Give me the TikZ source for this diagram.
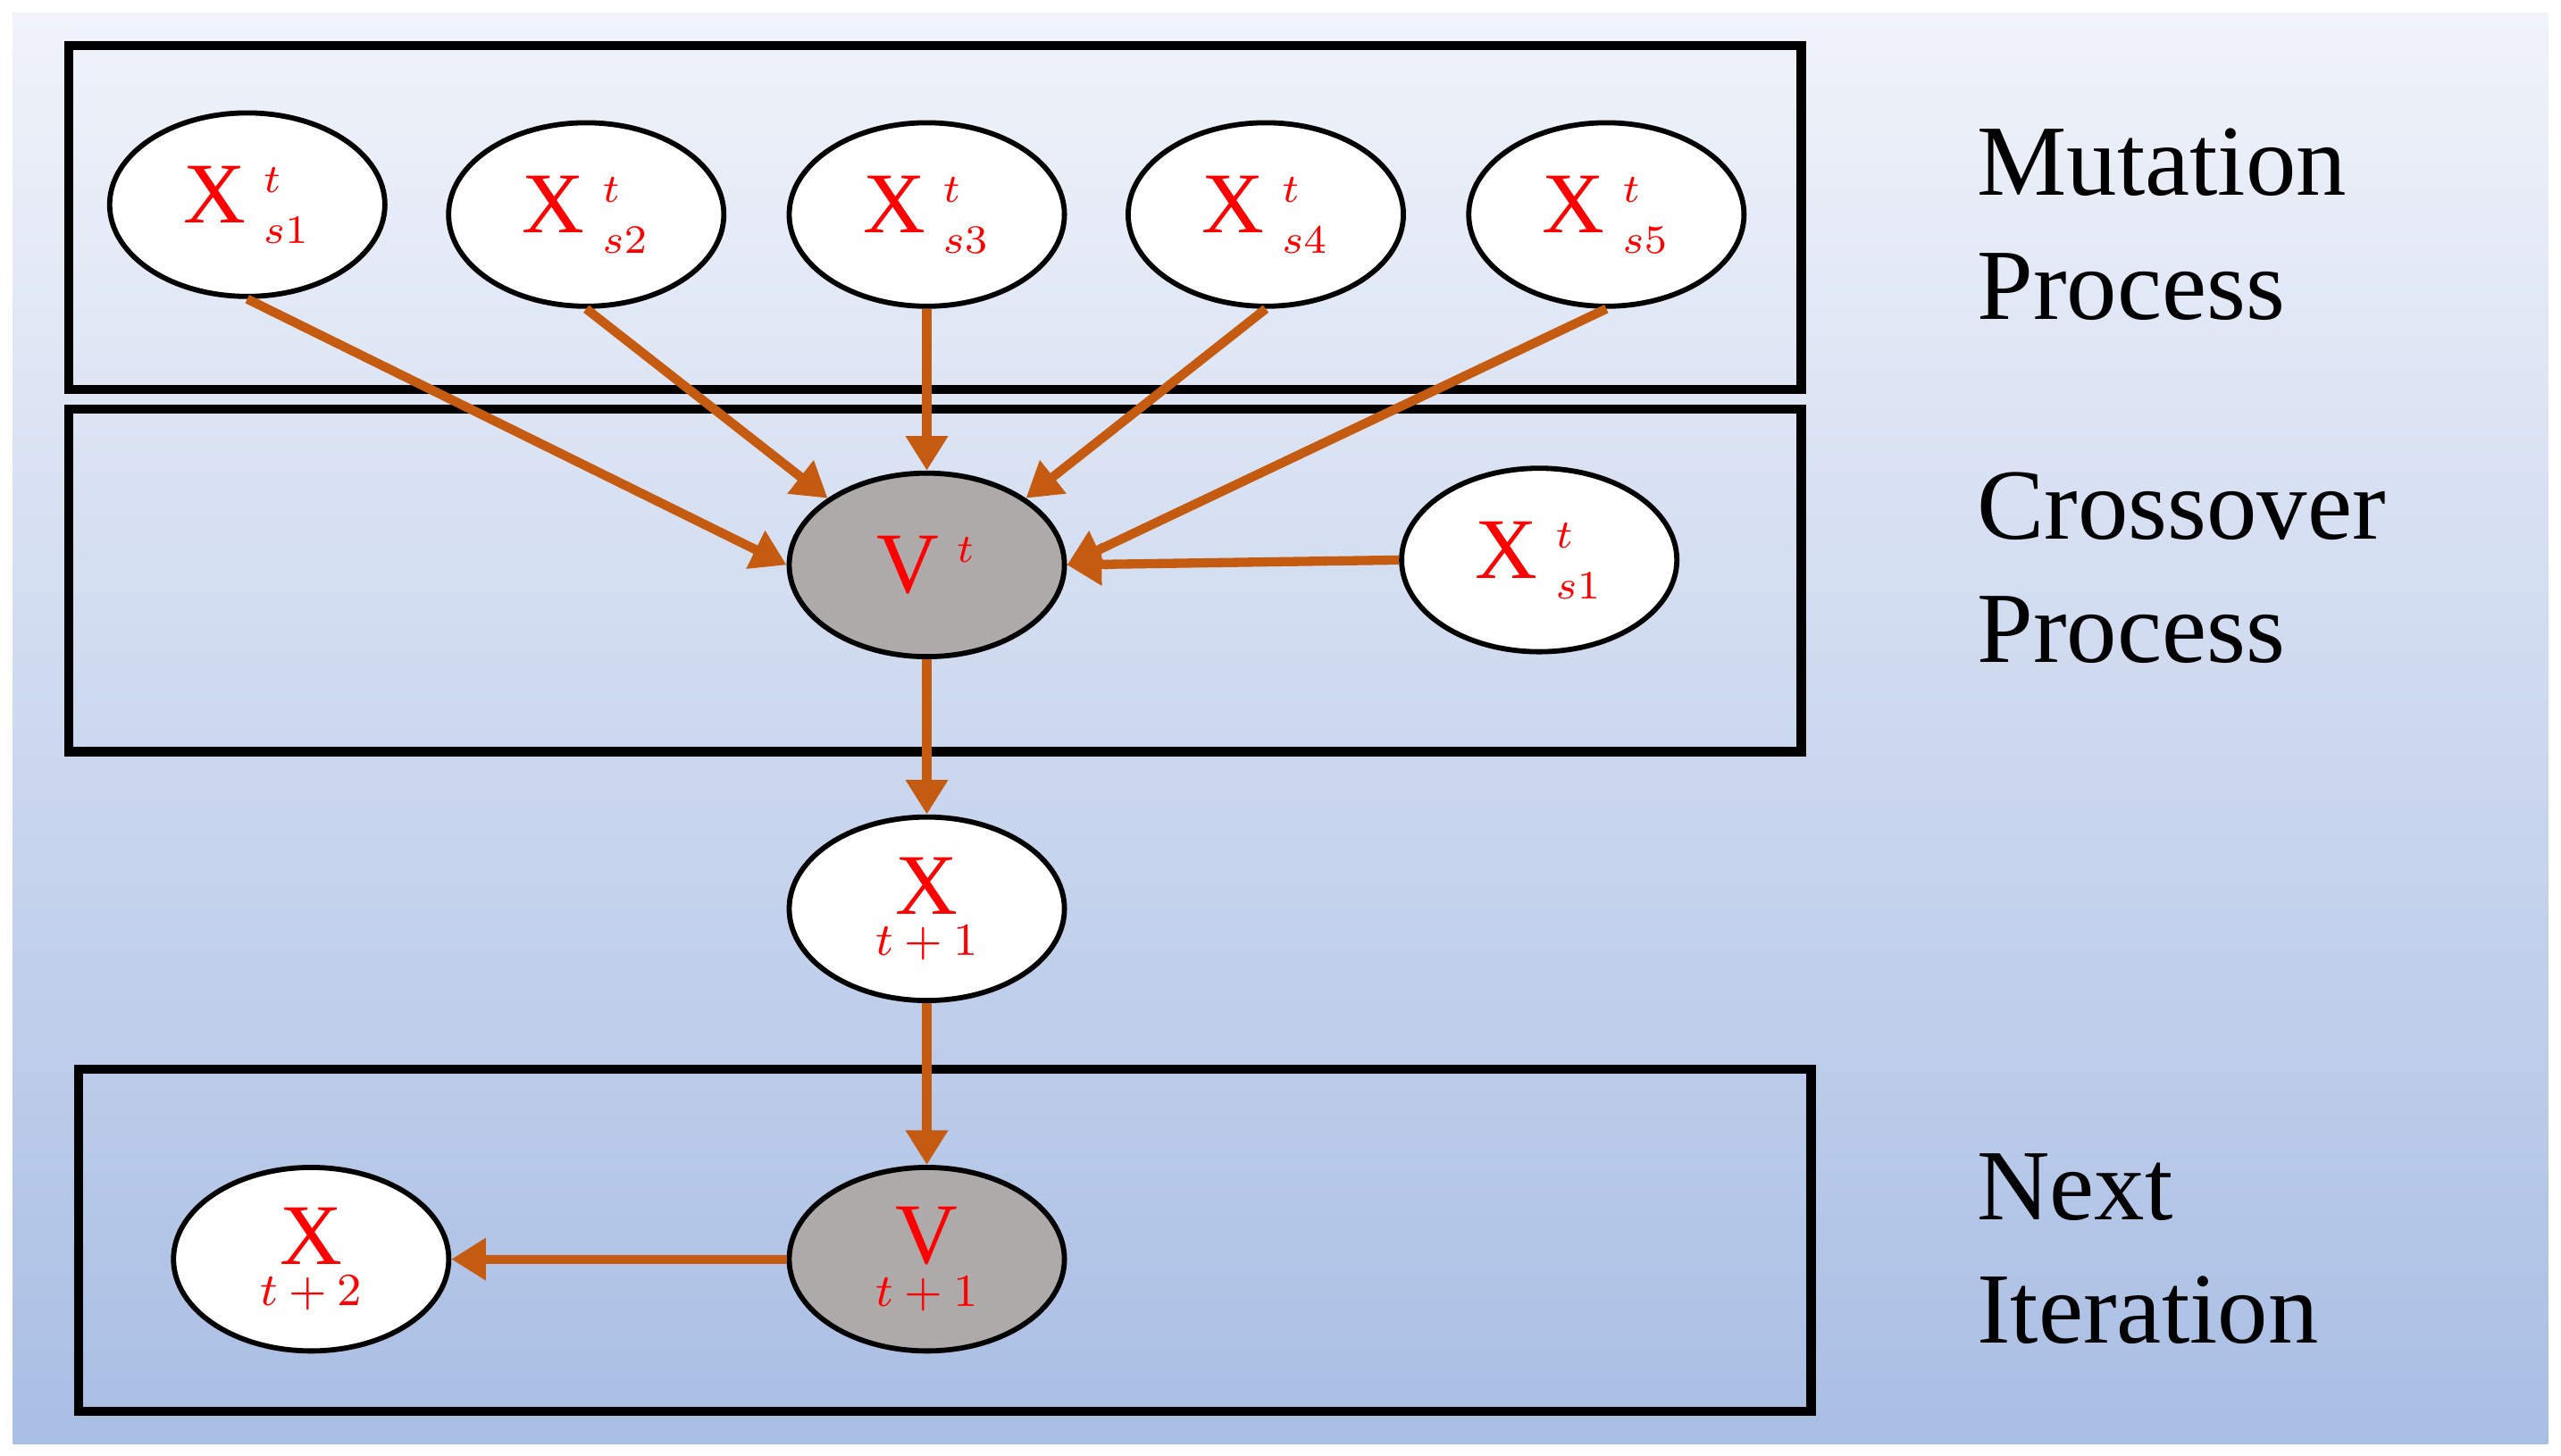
\documentclass[tikz,border=0pt]{standalone}
\usepackage{fontspec}
\setmainfont{Liberation Serif}
\usetikzlibrary{shapes.geometric,arrows.meta}
\definecolor{arr}{HTML}{C55A11}
\definecolor{vgray}{HTML}{AEAAAA}
\definecolor{bgtop}{HTML}{F0F3FA}
\definecolor{bgbot}{HTML}{A9BEE4}
\tikzset{
 el/.style={ellipse,draw=black,line width=0.9pt,fill=white,minimum width=1.68cm,minimum height=1.12cm,inner sep=0pt,text=red,font=\fontsize{15}{16}\selectfont},
 vel/.style={el,fill=vgray},
 box/.style={draw=black,line width=1.6pt},
 ar/.style={draw=arr,line width=1.6pt,-{Triangle[length=6pt,width=7pt]}},
 lab/.style={anchor=north west,align=left,font=\fontsize{17.5}{21.5}\selectfont}
}
\newcommand{\xst}[1]{X$^{\;\scriptscriptstyle t}_{\;\scriptscriptstyle s#1}$}
\newcommand{\xbt}[2]{\shortstack{#1\\[-1pt]{\fontsize{8.5}{9}\selectfont$t+#2$}}}
\begin{document}
\begin{tikzpicture}[x=0.01cm,y=-0.01cm]
\useasboundingbox (0,0) rectangle (1564,889);
\fill[white] (0,0) rectangle (1564,889);
\shade[top color=bgtop,bottom color=bgbot] (8,8) rectangle (1556,882);
\draw[box] (42,28) rectangle (1100,238);
\draw[box] (42,250) rectangle (1100,459);
\draw[box] (48,653) rectangle (1106,862);
\node[el] (a1) at (151,125) {\xst1};
\node[el] (a2) at (358,131) {\xst2};
\node[el] (a3) at (566,131) {\xst3};
\node[el] (a4) at (773,131) {\xst4};
\node[el] (a5) at (981,131) {\xst5};
\node[vel] (v) at (566,345) {V$^{\;\scriptscriptstyle t}$};
\node[el] (b) at (940,342) {\xst1};
\node[el] (x1) at (566,555) {\xbt{X}{1}};
\node[vel] (v1) at (566,769) {\xbt{V}{1}};
\node[el] (x2) at (190,769) {\xbt{X}{2}};
\draw[ar] (a1.south) -- (v.west);
\draw[ar] (a2.south) -- (v.north west);
\draw[ar] (a3.south) -- (v.north);
\draw[ar] (a4.south) -- (v.north east);
\draw[ar] (a5.south) -- (v.east);
\draw[ar] (b.west) -- (v.east);
\draw[ar] (v.south) -- (x1.north);
\draw[ar] (x1.south) -- (v1.north);
\draw[ar] (v1.west) -- (x2.east);
\node[lab] (l1) at (1195,66) {Mutation\\Process};
\node[lab] (l2) at (1195,276) {Crossover\\Process};
\node[lab] (l3) at (1195,692) {Next\\Iteration};
\end{tikzpicture}
\end{document}
